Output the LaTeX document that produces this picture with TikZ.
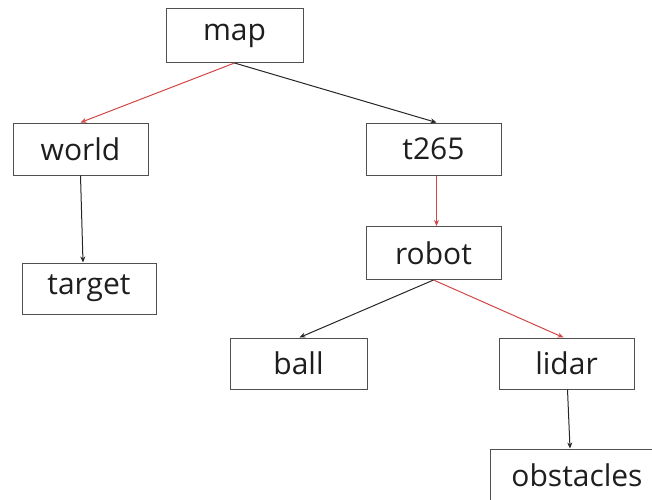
\documentclass[tikz,border=0pt]{standalone}
\usepackage{fontspec}
\setmainfont{Open Sans}
\usetikzlibrary{arrows.meta}
\definecolor{edgered}{RGB}{210,70,70}
\definecolor{boxgray}{RGB}{80,80,80}
\definecolor{txt}{RGB}{30,30,30}
\tikzset{
  box/.style={draw=boxgray, line width=1pt, inner sep=0pt, text=txt,
    font=\fontsize{30}{32}\selectfont},
  blk/.style={draw=black!85, line width=1pt, -{Stealth[length=6pt,width=5pt]}},
  redl/.style={draw=edgered, line width=1pt, -{Stealth[length=6pt,width=5pt]}}
}
\begin{document}
\begin{tikzpicture}[x=1pt,y=-1pt]
\useasboundingbox (0,0) rectangle (652,499);
\clip (0,0) rectangle (652,499);
\node[box, minimum width=137pt, minimum height=54pt] (map) at (234.5,35.5) {map};
\node[box, minimum width=135pt, minimum height=52pt] (world) at (80.5,149) {world};
\node[box, minimum width=135pt, minimum height=52pt] (t265) at (433.5,149) {t265};
\node[box, minimum width=135pt, minimum height=53pt] (robot) at (433.5,253) {robot};
\node[box, minimum width=134pt, minimum height=51pt] (target) at (89,288.5) {target};
\node[box, minimum width=137pt, minimum height=51pt] (ball) at (298.5,363.5) {ball};
\node[box, minimum width=135pt, minimum height=51pt] (lidar) at (566.5,363.5) {lidar};
\node[box, minimum width=180pt, minimum height=52pt] (obstacles) at (580,475) {obstacles\kern6pt};
\draw[redl] (map.south) -- (world.north);
\draw[blk] (map.south) -- ([xshift=3pt]t265.north);
\draw[redl] ([xshift=3pt]t265.south) -- ([xshift=3pt]robot.north);
\draw[blk] (robot.south) -- ([xshift=1pt]ball.north);
\draw[redl] (robot.south) -- ([xshift=-3pt]lidar.north);
\draw[blk] (world.south) -- ([xshift=-6pt]target.north);
\draw[blk] ([xshift=1pt]lidar.south) -- ([xshift=-10pt]obstacles.north);
\end{tikzpicture}
\end{document}
